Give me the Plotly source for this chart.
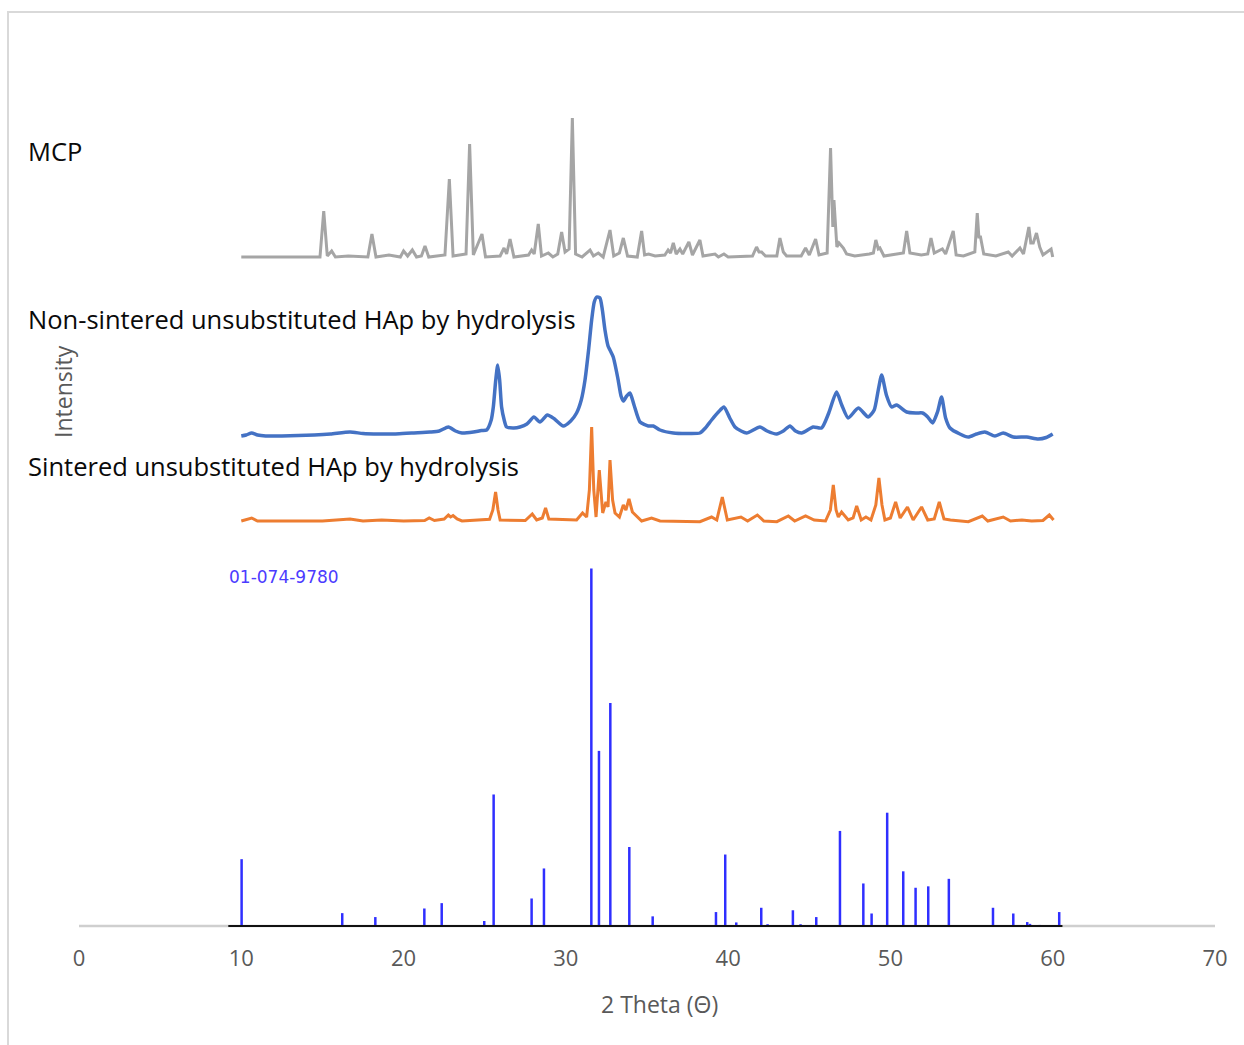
import plotly.graph_objects as go

# ---------------------------------------------------------------------------
# Diffractogram data (2θ in degrees, intensity in arbitrary units above the
# local baseline of each pattern)
# ---------------------------------------------------------------------------

# Monocalcium phosphate (MCP)
mcp_2theta = [
    10.0, 14.85, 15.08, 15.3, 15.57, 15.8, 16.6, 17.8, 18.05, 18.3, 19.1, 19.8,
    20.0, 20.25, 20.54, 20.8, 21.1, 21.32, 21.55, 22.55, 22.82, 23.05, 23.85,
    24.07, 24.3, 24.83, 25.05, 25.95, 26.19, 26.35, 26.56, 26.8, 27.7, 27.89,
    28.05, 28.3, 28.5, 28.92, 29.2, 29.5, 29.74, 29.95, 30.2, 30.4, 30.6, 31.0,
    31.49, 31.7, 32.0, 32.3, 32.72, 32.95, 33.3, 33.54, 33.8, 34.4, 34.67,
    34.85, 35.1, 35.5, 36.1, 36.3, 36.45, 36.62, 36.8, 37.03, 37.2, 37.58,
    37.8, 38.26, 38.45, 38.8, 39.19, 39.4, 39.74, 40.0, 41.5, 41.75, 41.9,
    42.06, 42.3, 43.0, 43.19, 43.4, 43.6, 44.5, 44.77, 45.0, 45.39, 45.6,
    46.1, 46.31, 46.45, 46.52, 46.7, 46.83, 47.1, 47.3, 47.8, 48.7, 48.95,
    49.1, 49.25, 49.35, 49.6, 50.8, 51.0, 51.2, 51.9, 52.3, 52.5, 52.7, 53.2,
    53.4, 53.87, 54.05, 54.5, 55.2, 55.35, 55.45, 55.55, 55.75, 56.5, 57.26,
    57.5, 57.98, 58.2, 58.53, 58.65, 58.8, 59.0, 59.2, 59.4, 59.9, 60.0,
]
mcp_intensity = [
    0, 0, 46, 1, 6, 0, 1, 0, 23, 0, 2, 0,
    6, 1, 7, 0, 1, 11, 0, 2, 78, 1, 3,
    113, 2, 23, 0, 1, 9, 3, 18, 0, 2, 7,
    3, 33, 1, 4, 0, 3, 25, 5, 8, 139, 3, 0,
    7, 1, 4, 0, 27, 1, 4, 19, 1, 0, 26,
    2, 3, 1, 2, 7, 4, 14, 3, 8, 3, 15,
    2, 17, 1, 2, 3, 0, 3, 0, 1, 10, 5,
    5, 1, 1, 19, 5, 1, 1, 9, 2, 18, 2,
    4, 109, 30, 57, 10, 14, 9, 3, 1, 3, 4,
    17, 8, 9, 1, 4, 26, 4, 2, 3, 19, 4, 8,
    3, 26, 2, 1, 5, 44, 20, 20, 3, 1, 5,
    1, 9, 3, 30, 14, 14, 24, 10, 2, 8, 0,
]

# Non-sintered unsubstituted HAp (hydrolysis route)
hap_raw_2theta = [
    10.0, 10.3, 10.64, 11.0, 11.5, 12.5, 13.5, 14.5, 15.5, 16.7, 17.5, 18.5,
    19.5, 20.5, 21.63, 22.2, 22.76, 23.2, 23.6, 24.3, 24.8, 25.12, 25.4,
    25.53, 25.68, 25.8, 25.92, 26.04, 26.2, 26.35, 26.8, 27.17, 27.6, 28.03,
    28.4, 28.86, 29.3, 29.84, 30.3, 30.66, 30.95, 31.18, 31.4, 31.59, 31.75,
    31.9, 32.1, 32.25, 32.41, 32.6, 32.72, 32.92, 33.2, 33.4, 33.54, 33.75,
    33.95, 34.2, 34.57, 35.08, 35.39, 35.8, 36.62, 37.5, 38.26, 38.6, 38.98,
    39.4, 39.74, 40.1, 40.42, 40.8, 41.14, 41.96, 42.4, 42.99, 43.4, 43.81,
    44.15, 44.53, 45.24, 45.76, 46.2, 46.68, 47.0, 47.4, 48.02, 48.63, 49.0,
    49.25, 49.46, 49.75, 50.07, 50.38, 51.0, 51.61, 51.98, 52.3, 52.6, 52.9,
    53.15, 53.4, 53.67, 54.28, 54.8, 55.3, 55.82, 56.44, 56.95, 57.57, 58.4,
    59.11, 59.6, 60.0,
]
hap_raw_intensity = [
    4, 5, 7, 5, 4, 4, 4.5, 5, 6, 8, 6.5, 6,
    6, 7, 8, 9, 13, 9, 7, 8, 9.5, 10, 20,
    33, 60, 75, 60, 33, 20, 13, 12, 13, 16, 23,
    18, 25, 21, 14, 19, 27, 40, 60, 90, 120, 138,
    143, 142, 130, 110, 94, 90, 83, 62, 44, 39, 44,
    47, 35, 18, 14, 14, 10, 7, 6.5, 7, 12, 20,
    28, 33, 22, 13, 9, 7, 13, 9, 6, 9, 14,
    9, 7, 13, 12, 27, 48, 35, 22, 32, 23, 30,
    50, 65, 45, 33, 35, 28, 27, 27, 23, 17, 28,
    43, 22, 12, 6, 3, 6, 8, 4, 7, 3, 3,
    1, 2.5, 6,
]

# Sintered unsubstituted HAp (hydrolysis route)
hap_sint_2theta = [
    10.0, 10.64, 11.0, 13.0, 15.0, 16.7, 17.5, 18.65, 20.0, 21.3, 21.58, 21.9,
    22.5, 22.76, 22.9, 23.05, 23.3, 23.6, 25.3, 25.5, 25.67, 25.82, 25.95,
    27.5, 27.93, 28.2, 28.55, 28.75, 28.95, 30.66, 31.03, 31.28, 31.45, 31.59,
    31.72, 31.86, 32.06, 32.27, 32.47, 32.6, 32.72, 32.88, 33.03, 33.3, 33.54,
    33.7, 33.89, 34.1, 34.4, 34.67, 35.28, 35.8, 38.26, 38.98, 39.3, 39.64,
    39.95, 40.79, 41.2, 41.8, 42.2, 43.0, 43.71, 44.1, 44.77, 45.0, 45.3,
    46.0, 46.3, 46.48, 46.65, 46.79, 46.99, 47.4, 47.7, 47.92, 48.2, 48.49,
    48.8, 49.1, 49.29, 49.48, 49.66, 50.0, 50.32, 50.6, 51.05, 51.4, 51.92,
    52.3, 52.7, 53.01, 53.3, 53.7, 54.8, 55.66, 56.0, 56.95, 57.4, 58.1,
    58.7, 59.4, 59.79, 60.05,
]
hap_sint_intensity = [
    1, 4, 1, 1, 1, 3, 1, 2, 1, 1.5, 4, 1.5,
    3, 7, 5, 6.5, 3, 1, 2.7, 12, 30, 12, 2,
    1.5, 8, 2, 4, 14, 3, 2, 9, 5, 32, 95,
    32, 5, 52, 9, 20, 15, 62, 22, 9, 5, 17,
    12, 23, 10, 5, 1, 4, 1, 0.3, 5, 2, 25,
    2, 5, 1, 7, 1, 0.3, 6, 1, 6, 4, 2,
    1, 12, 37, 12, 5, 10, 2, 4, 16, 2, 5,
    2, 17, 44, 17, 2, 4, 20, 4, 15, 2, 15,
    2, 3, 20, 3, 2, 0.3, 6, 1, 5, 1, 2,
    1, 1.5, 7, 2,
]

# Reference card 01-074-9780 (relative intensity, %)
ref_card = "01-074-9780"
ref_2theta = [
    10.02, 16.22, 18.26, 21.28, 22.35, 24.97, 25.55, 27.89, 28.65, 31.57,
    32.04, 32.74, 33.91, 35.35, 39.25, 39.82, 40.5, 42.04, 42.43, 43.99,
    44.46, 45.43, 46.89, 48.33, 48.84, 49.8, 50.79, 51.55, 52.33, 53.6,
    54.86, 56.32, 57.57, 58.43, 58.6, 59.2, 60.4,
]
ref_rel_intensity = [
    18.7, 3.6, 2.5, 4.9, 6.4, 1.4, 36.8, 7.7, 16.1, 100,
    49.0, 62.4, 22.1, 2.7, 3.9, 20.0, 1.0, 5.1, 0.5, 4.4,
    0.5, 2.5, 26.6, 11.9, 3.5, 31.7, 15.3, 10.7, 11.1, 13.2,
    0.2, 5.1, 3.5, 1.1, 0.6, 0.3, 3.9,
]
ref_span = [9.2, 60.6]

series_names = [
    "MCP",
    "Non-sintered unsubstituted HAp by hydrolysis",
    "Sintered unsubstituted HAp by hydrolysis",
]
x_ticks = [0, 10, 20, 30, 40, 50, 60, 70]

# ---------------------------------------------------------------------------
# Stacking offsets and styling
# ---------------------------------------------------------------------------
OFFSET_MCP = 669
OFFSET_RAW = 486
OFFSET_SINT = 404
STICK_SCALE = 3.574  # height of a 100 % reflection

W, H = 1244, 1045
M_L, M_R, M_T, M_B = 79, 29, 63, 116
PLOT_W = W - M_L - M_R
PLOT_H = H - M_T - M_B
Y0 = -3
Y1 = Y0 + PLOT_H


def px_x(p):
    return (p - M_L) / PLOT_W


def px_y(p):
    return (H - M_B - p) / PLOT_H


TEXT_FONT = "Open Sans"
AXIS_GREY = "#595959"

fig = go.Figure()

fig.add_trace(go.Scatter(
    x=mcp_2theta, y=[v + OFFSET_MCP for v in mcp_intensity],
    mode="lines", line=dict(color="#A5A5A5", width=3), name=series_names[0],
))
fig.add_trace(go.Scatter(
    x=hap_raw_2theta, y=[v + OFFSET_RAW for v in hap_raw_intensity],
    mode="lines", line=dict(color="#4472C4", width=3.5, shape="spline", smoothing=0.6),
    name=series_names[1],
))
fig.add_trace(go.Scatter(
    x=hap_sint_2theta, y=[v + OFFSET_SINT for v in hap_sint_intensity],
    mode="lines", line=dict(color="#ED7D31", width=3), name=series_names[2],
))

# Reference reflections as vertical sticks
stick_x, stick_y = [], []
for tt, ri in zip(ref_2theta, ref_rel_intensity):
    stick_x += [tt, tt, None]
    stick_y += [0, ri * STICK_SCALE, None]
fig.add_trace(go.Scatter(
    x=stick_x, y=stick_y, mode="lines",
    line=dict(color="#2F2FFF", width=2.5), name=ref_card,
))
fig.add_trace(go.Scatter(
    x=ref_span, y=[0, 0], mode="lines",
    line=dict(color="#111111", width=2), name=ref_card + " baseline",
))

# Horizontal axis line
fig.add_shape(type="line", xref="x", yref="y", x0=x_ticks[0], x1=x_ticks[-1],
              y0=0, y1=0, line=dict(color="#CFCFCF", width=2.5), layer="below")

# Outer frame
fig.add_shape(type="rect", xref="paper", yref="paper",
              x0=px_x(8), x1=px_x(1260), y0=px_y(1060), y1=px_y(12),
              line=dict(color="#D9D9D9", width=2), fillcolor="rgba(0,0,0,0)")

# Series labels
label_rows = [151, 319, 466]
for name, row in zip(series_names, label_rows):
    fig.add_annotation(
        x=px_x(26), y=px_y(row), xref="paper", yref="paper",
        xanchor="left", yanchor="middle", showarrow=False, text=name,
        font=dict(family=TEXT_FONT, size=25.5, color="#0A0A0A"),
    )

fig.add_annotation(
    x=px_x(227), y=px_y(577), xref="paper", yref="paper",
    xanchor="left", yanchor="middle", showarrow=False, text=ref_card,
    font=dict(family="DejaVu Sans", size=17, color="#4B3BFF"),
)

# Axis titles
fig.add_annotation(
    x=px_x(659), y=px_y(1004), xref="paper", yref="paper",
    xanchor="center", yanchor="middle", showarrow=False, text="2 Theta (Θ)",
    font=dict(family=TEXT_FONT, size=23, color=AXIS_GREY),
)
fig.add_annotation(
    x=px_x(63), y=px_y(392), xref="paper", yref="paper",
    xanchor="center", yanchor="middle", showarrow=False, text="Intensity",
    textangle=-90, font=dict(family=TEXT_FONT, size=23, color=AXIS_GREY),
)

fig.update_layout(
    width=W, height=H,
    margin=dict(l=M_L, r=M_R, t=M_T, b=M_B),
    paper_bgcolor="white", plot_bgcolor="white",
    showlegend=False,
    xaxis=dict(
        range=[x_ticks[0], x_ticks[-1]], tickvals=x_ticks,
        showgrid=False, zeroline=False, showline=False, ticks="",
        ticklabelstandoff=14,
        tickfont=dict(family=TEXT_FONT, size=22, color=AXIS_GREY),
    ),
    yaxis=dict(range=[Y0, Y1], visible=False, showgrid=False, zeroline=False),
)

fig.write_html("out.html", config={"displayModeBar": False})
